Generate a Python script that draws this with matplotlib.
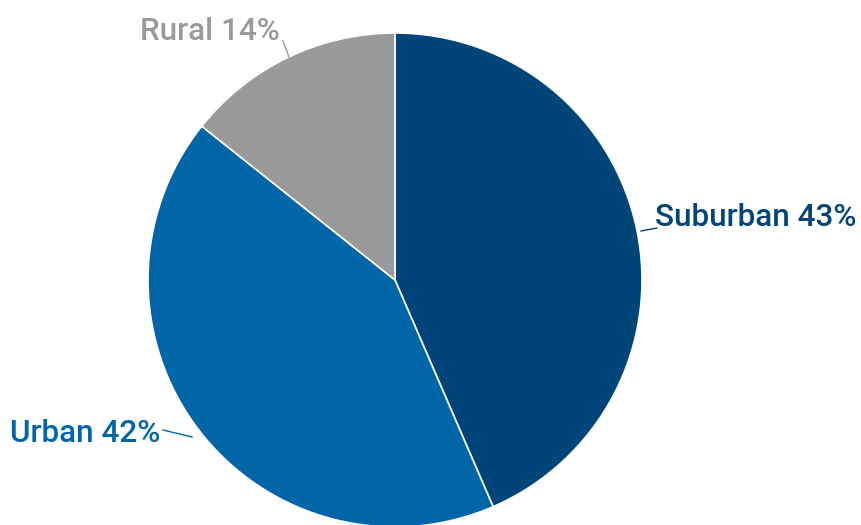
import matplotlib.pyplot as plt

# shares (labels are rounded)
areas = ['Suburban', 'Urban', 'Rural']
shares = [43.5, 42.2, 14.3]
pct_labels = ['43%', '42%', '14%']
colores = ['#00457a', '#0066a8', '#9a9a9a']

W, H = 861, 525
fig = plt.figure(figsize=(W / 100, H / 100), dpi=100)
ax = fig.add_axes([0, 0, 1, 1])

cx, cy, r = 395, H - 280, 247
ax.pie(shares, colors=colores, startangle=90, counterclock=False,
       center=(cx, cy), radius=r, frame=True,
       wedgeprops={'edgecolor': 'white', 'linewidth': 1.2})
ax.set_xlim(0, W)
ax.set_ylim(0, H)
ax.set_aspect('equal')
ax.axis('off')

# label placement (text anchor, leader line) in pixels, y from top
pos_texto = [(655, 218, 'left'), (160, 433, 'right'), (280, 31, 'right')]
lineas = [((641, 231), (657, 228)), ((192, 437), (163, 430)), ((289, 57), (283, 41))]

for i in range(len(areas)):
    x, y, ha = pos_texto[i]
    ax.text(x, H - y, f'{areas[i]} {pct_labels[i]}', ha=ha, va='center',
            fontsize=22.7, fontfamily='Roboto', fontweight='medium',
            color=colores[i])
    (x0, y0), (x1, y1) = lineas[i]
    ax.plot([x0, x1], [H - y0, H - y1], color=colores[i], lw=1)

fig.savefig('out.png', dpi=100)
